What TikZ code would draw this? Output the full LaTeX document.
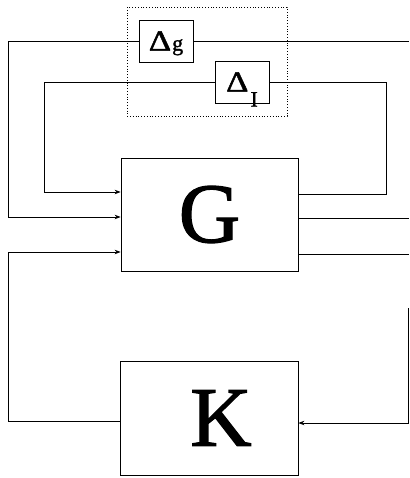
\documentclass[tikz,border=0pt]{standalone}
\usepackage{fontspec}
\usepackage{graphicx}
\setmainfont{Liberation Serif}
\newfontfamily\heavyserif{Liberation Serif}[FakeBold=1.4]
\usetikzlibrary{arrows.meta}
\newcommand{\deltasym}{\scalebox{1.2}[1]{\fontsize{29}{29}\selectfont Δ}}
\newcommand{\subsym}{\fontsize{22}{22}\selectfont}
\begin{document}
\begin{tikzpicture}[x=1pt,y=-1pt,
  blk/.style={draw, line width=0.8pt, inner sep=0pt},
  wire/.style={line width=0.8pt},
  arr/.style={wire, -{Stealth[length=6pt,width=4.5pt]}},
  big/.style={font=\heavyserif\fontsize{85}{85}\selectfont}]
\useasboundingbox (0,0) rectangle (409,478);

% uncertainty blocks inside the dotted frame
\draw[dotted, line width=0.8pt] (127,7) rectangle (287,116);
\node[blk, font=\heavyserif, minimum width=54, minimum height=42] (dg) at (166,41)
  {\deltasym\hspace{1pt}\smash{\subsym g}};
\node[blk, font=\heavyserif, minimum width=54, minimum height=42] (dI) at (242,82)
  {\deltasym\hspace{2pt}\smash{\raisebox{-15pt}{\subsym I}}};

% plant and controller
\node[blk, big, minimum width=177, minimum height=113] (G) at (209.5,214.5) {G};
\node[blk, big, minimum width=178, minimum height=114] (K) at (209,418) {\hspace*{24pt}K};

% routing points
\coordinate (l1) at (8,217);
\coordinate (l2) at (44,192);
\coordinate (l3) at (8,252);
\coordinate (k1) at (8,421);
\coordinate (r1) at (386,194);
\coordinate (o1) at (409,41);
\coordinate (o2) at (409,218);
\coordinate (o3) at (409,254);
\coordinate (rt) at (408,308);
\coordinate (rb) at (408,423);

% feedback through the uncertainties
\draw[arr] (dg.west) -| (l1) -- (l1 -| G.west);
\draw[arr] (dI.west) -| (l2) -- (l2 -| G.west);
\draw[wire] (r1 -| G.east) -- (r1) |- (dI.east);
\draw[wire] (dg.east) -- (o1);

% plant outputs
\draw[wire] (o2 -| G.east) -- (o2);
\draw[wire] (o3 -| G.east) -- (o3);

% controller loop
\draw[arr] (k1 -| K.west) -- (k1) -- (l3) -- (l3 -| G.west);
\draw[arr] (rt) -- (rb) -- (rb -| K.east);
\end{tikzpicture}
\end{document}
